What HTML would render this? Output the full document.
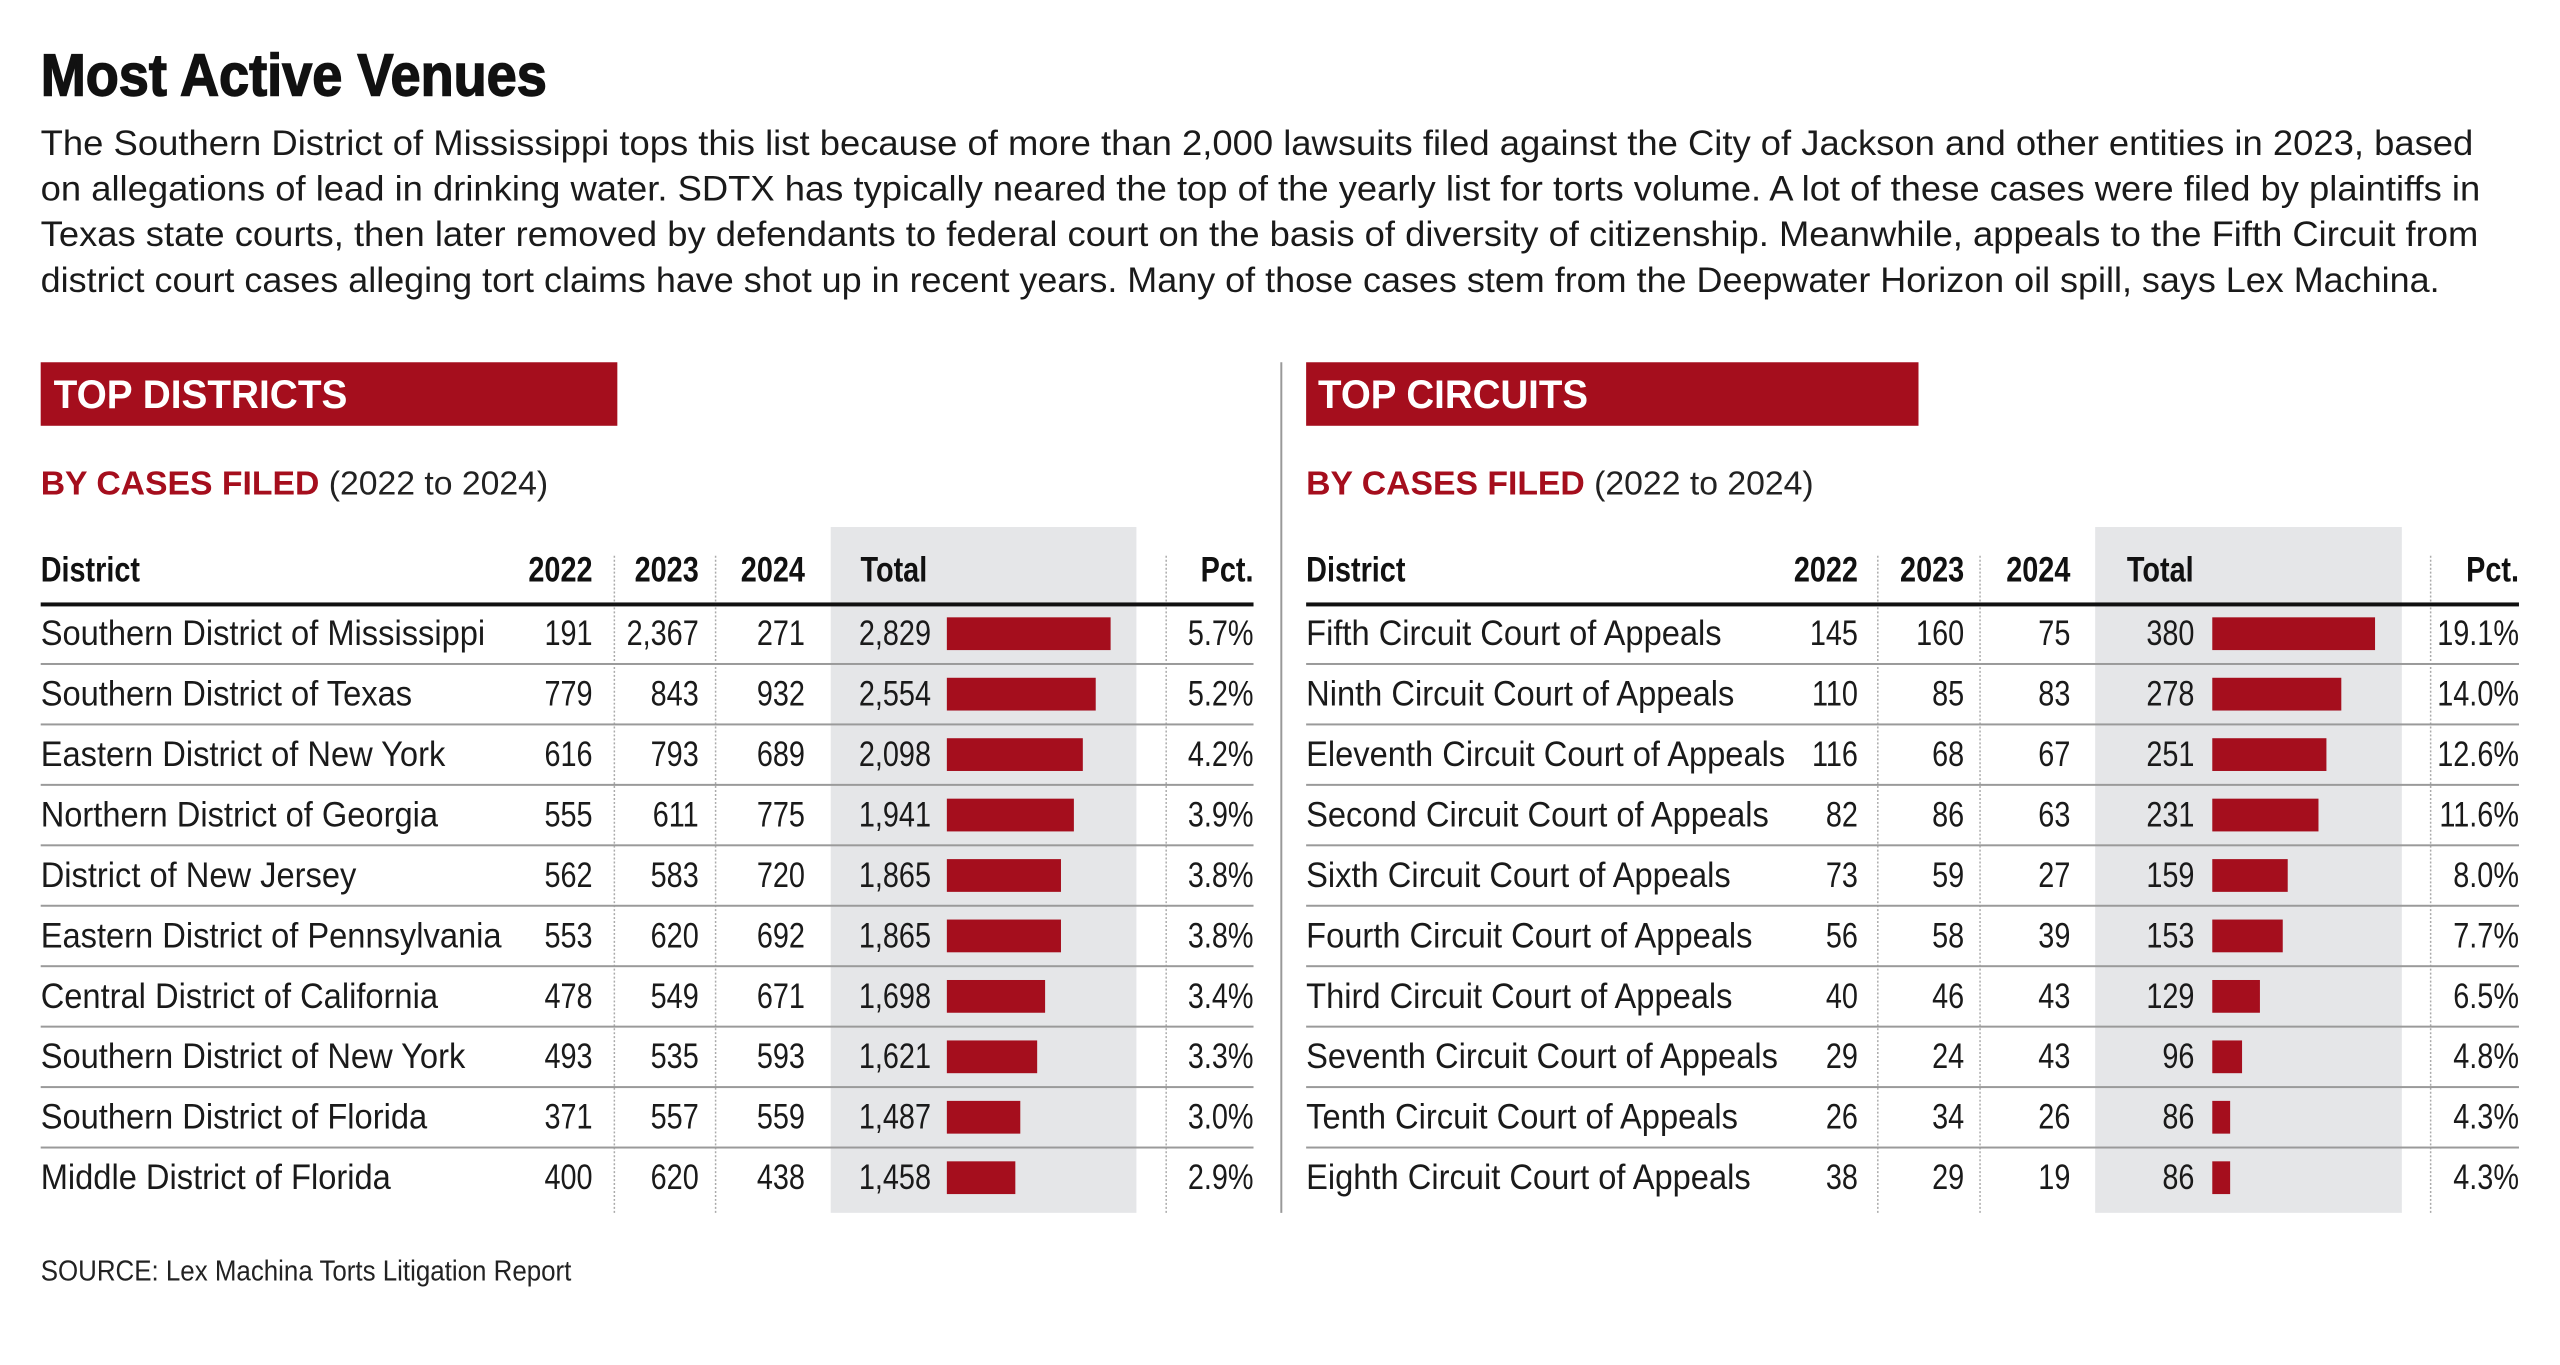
<!DOCTYPE html>
<html><head><meta charset="utf-8"><style>
html,body{margin:0;padding:0;background:#fff;}
svg{display:block;font-family:"Liberation Sans",sans-serif;}
.n{font-size:35px;fill:#1a1a1a;}
.h{font-size:35px;font-weight:bold;fill:#111;}
</style></head><body>
<svg width="2560" height="1365" viewBox="0 0 2560 1365" xmlns="http://www.w3.org/2000/svg">
<rect width="2560" height="1365" fill="#fff"/>
<g transform="scale(0.9925)">
<text x="41" y="96" font-size="60" font-weight="bold" fill="#111" textLength="510" lengthAdjust="spacingAndGlyphs" stroke="#111" stroke-width="1.5">Most Active Venues</text>
<g font-size="35" fill="#1a1a1a">
<text x="41" y="156" textLength="2451" lengthAdjust="spacingAndGlyphs">The Southern District of Mississippi tops this list because of more than 2,000 lawsuits filed against the City of Jackson and other entities in 2023, based</text>
<text x="41" y="202" textLength="2458" lengthAdjust="spacingAndGlyphs">on allegations of lead in drinking water. SDTX has typically neared the top of the yearly list for torts volume. A lot of these cases were filed by plaintiffs in</text>
<text x="41" y="248" textLength="2456" lengthAdjust="spacingAndGlyphs">Texas state courts, then later removed by defendants to federal court on the basis of diversity of citizenship. Meanwhile, appeals to the Fifth Circuit from</text>
<text x="41" y="294" textLength="2417" lengthAdjust="spacingAndGlyphs">district court cases alleging tort claims have shot up in recent years. Many of those cases stem from the Deepwater Horizon oil spill, says Lex Machina.</text>
</g>
<line x1="1291" y1="365" x2="1291" y2="1222" stroke="#999" stroke-width="2"/>
<rect x="41" y="365" width="581" height="64" fill="#a50e1d"/>
<text x="54" y="411" font-size="40" font-weight="bold" fill="#fff" textLength="296" lengthAdjust="spacingAndGlyphs">TOP DISTRICTS</text>
<text x="41" y="498" font-size="34" fill="#222"><tspan fill="#a50e1d" font-weight="bold">BY CASES FILED</tspan> (2022 to 2024)</text>
<rect x="837" y="531" width="308" height="691" fill="#e5e6e8"/>
<g stroke="#aaa" stroke-width="1.5" stroke-dasharray="2,2">
<line x1="619" y1="560" x2="619" y2="1222"/><line x1="721" y1="560" x2="721" y2="1222"/><line x1="1175" y1="560" x2="1175" y2="1222"/>
</g>
<rect x="1316" y="365" width="617" height="64" fill="#a50e1d"/>
<text x="1328" y="411" font-size="40" font-weight="bold" fill="#fff" textLength="272" lengthAdjust="spacingAndGlyphs">TOP CIRCUITS</text>
<text x="1316" y="498" font-size="34" fill="#222"><tspan fill="#a50e1d" font-weight="bold">BY CASES FILED</tspan> (2022 to 2024)</text>
<rect x="2111" y="531" width="309" height="691" fill="#e5e6e8"/>
<g stroke="#aaa" stroke-width="1.5" stroke-dasharray="2,2">
<line x1="1892" y1="560" x2="1892" y2="1222"/><line x1="1995" y1="560" x2="1995" y2="1222"/><line x1="2449" y1="560" x2="2449" y2="1222"/>
</g>
<g id="tables"></g>
<text transform="translate(41,1290) scale(.9,1)" font-size="29" fill="#222">SOURCE: Lex Machina Torts Litigation Report</text>
</g>
</svg>
<script>
const ns="http://www.w3.org/2000/svg";
const g=document.getElementById('tables');
function t(x,y,s,cls,anchor,sc){const e=document.createElementNS(ns,'text');e.setAttribute('transform',`translate(${x},${y}) scale(${sc||.83},1)`);e.setAttribute('class',cls);if(anchor)e.setAttribute('text-anchor',anchor);e.textContent=s;g.appendChild(e);}
function r(x,y,w,h,f){const e=document.createElementNS(ns,'rect');e.setAttribute('x',x);e.setAttribute('y',y);e.setAttribute('width',w);e.setAttribute('height',h);e.setAttribute('fill',f);g.appendChild(e);}
function tbl(c,rows){
 const hy=586;
 t(c.x,hy,'District','h');t(c.c1,hy,'2022','h','end');t(c.c2,hy,'2023','h','end');t(c.c3,hy,'2024','h','end');t(c.tl,hy,'Total','h');t(c.pc,hy,'Pct.','h','end');
 r(c.x,607,c.pc-c.x,4,'#111');
 rows.forEach((d,i)=>{const cy=638+60.9*i,by=cy+12;
  t(c.x,by,d[0],'n',null,.94);t(c.c1,by,d[1],'n','end');t(c.c2,by,d[2],'n','end');t(c.c3,by,d[3],'n','end');t(c.tc,by,d[4],'n','end');t(c.pc,by,d[5],'n','end');
  r(c.bs,cy-16,d[6]-c.bs,33,'#a50e1d');
  if(i<rows.length-1) r(c.x,668+60.9*i,c.pc-c.x,2,'#9a9a9a');
 });
}
tbl({x:41,c1:597,c2:704,c3:811,tl:867,tc:938,bs:954,pc:1263},[
["Southern District of Mississippi","191","2,367","271","2,829","5.7%",1119],
["Southern District of Texas","779","843","932","2,554","5.2%",1104],
["Eastern District of New York","616","793","689","2,098","4.2%",1091],
["Northern District of Georgia","555","611","775","1,941","3.9%",1082],
["District of New Jersey","562","583","720","1,865","3.8%",1069],
["Eastern District of Pennsylvania","553","620","692","1,865","3.8%",1069],
["Central District of California","478","549","671","1,698","3.4%",1053],
["Southern District of New York","493","535","593","1,621","3.3%",1045],
["Southern District of Florida","371","557","559","1,487","3.0%",1028],
["Middle District of Florida","400","620","438","1,458","2.9%",1023]]);
tbl({x:1316,c1:1872,c2:1979,c3:2086,tl:2143,tc:2211,bs:2229,pc:2538},[
["Fifth Circuit Court of Appeals","145","160","75","380","19.1%",2393],
["Ninth Circuit Court of Appeals","110","85","83","278","14.0%",2359],
["Eleventh Circuit Court of Appeals","116","68","67","251","12.6%",2344],
["Second Circuit Court of Appeals","82","86","63","231","11.6%",2336],
["Sixth Circuit Court of Appeals","73","59","27","159","8.0%",2305],
["Fourth Circuit Court of Appeals","56","58","39","153","7.7%",2300],
["Third Circuit Court of Appeals","40","46","43","129","6.5%",2277],
["Seventh Circuit Court of Appeals","29","24","43","96","4.8%",2259],
["Tenth Circuit Court of Appeals","26","34","26","86","4.3%",2247],
["Eighth Circuit Court of Appeals","38","29","19","86","4.3%",2247]]);
</script>
</body></html>
